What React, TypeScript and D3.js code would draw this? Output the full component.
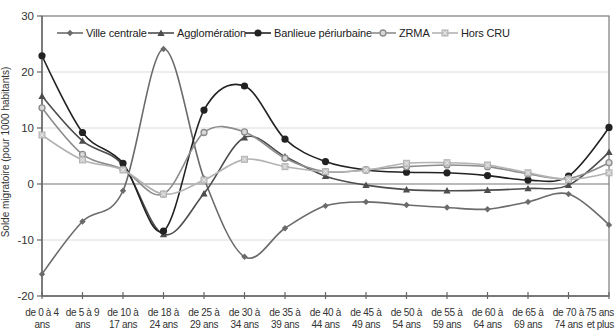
import React from "react";
import * as d3 from "d3";

const labelLine1 = ["de 0 à 4", "de 5 à 9", "de 10 à", "de 18 à", "de 25 à", "de 30 à", "de 35 à", "de 40 à", "de 45 à", "de 50 à", "de 55 à", "de 60 à", "de 65 à", "de 70 à", "75 ans"];
const labelLine2 = ["ans", "ans", "17 ans", "24 ans", "29 ans", "34 ans", "39 ans", "44 ans", "49 ans", "54 ans", "59 ans", "64 ans", "69 ans", "74 ans", "et plus"];
const categories = labelLine1.map((l, i) => l + " " + labelLine2[i]);

const seriesNames = ["Ville centrale", "Agglomération", "Banlieue périurbaine", "ZRMA", "Hors CRU"];
const villeCentrale = [-16.1, -6.7, -1.2, 24.1, 1.0, -13.0, -7.9, -3.9, -3.2, -3.75, -4.2, -4.5, -3.2, -1.8, -7.3];
const agglomeration = [15.7, 7.7, 3.4, -9.0, -1.7, 8.3, 4.9, 1.4, -0.2, -1.0, -1.2, -1.1, -0.8, -0.2, 5.7];
const banlieue = [22.9, 9.2, 3.7, -8.4, 13.2, 17.5, 8.0, 4.0, 2.5, 2.1, 2.0, 1.5, 0.7, 1.4, 10.1];
const zrma = [13.6, 5.3, 2.6, -1.8, 9.2, 9.3, 4.6, 2.2, 2.5, 3.1, 3.4, 3.1, 1.8, 1.0, 3.8];
const horsCru = [8.75, 4.3, 2.5, -1.8, 0.7, 4.4, 3.1, 2.2, 2.5, 3.7, 3.8, 3.4, 2.0, 0.8, 2.0];
const yTicks = [-20, -10, 0, 10, 20, 30];
const yLabel = "Solde migratoire (pour 1000 habitants)";

const seriesValues = [villeCentrale, agglomeration, banlieue, zrma, horsCru];

const styles = [
  { color: "#6b6b6b", marker: "diamond", fill: "#6b6b6b" },
  { color: "#4d4d4d", marker: "triangle", fill: "#4d4d4d" },
  { color: "#222222", marker: "circle", fill: "#222222" },
  { color: "#8c8c8c", marker: "ocircle", fill: "#d8d8d8" },
  { color: "#b3b3b3", marker: "square", fill: "#c8c8c8" },
];
const legendTextX = [86, 177, 274, 399, 461];

const W = 615, H = 332;
const font = "'Liberation Sans', Arial, Helvetica, sans-serif";

function Marker({ type, x, y, color, fill }: any) {
  if (type === "diamond") {
    const s = 3.2;
    return <path d={`M${x},${y - s}L${x + s},${y}L${x},${y + s}L${x - s},${y}Z`} fill={fill} />;
  }
  if (type === "triangle") {
    const s = 3.6;
    return <path d={`M${x},${y - s}L${x + s},${y + s * 0.8}L${x - s},${y + s * 0.8}Z`} fill={fill} />;
  }
  if (type === "circle") {
    return <circle cx={x} cy={y} r={3.6} fill={fill} />;
  }
  if (type === "ocircle") {
    return <circle cx={x} cy={y} r={3} fill={fill} stroke={color} strokeWidth={1.3} />;
  }
  return (
    <g>
      <rect x={x - 3} y={y - 3} width={6} height={6} fill={fill} stroke={color} strokeWidth={1} />
      <path d={`M${x - 2},${y - 2}L${x + 2},${y + 2}M${x + 2},${y - 2}L${x - 2},${y + 2}`} stroke="#eee" strokeWidth={0.8} />
    </g>
  );
}

export default function App() {
  const x = d3.scalePoint<string>().domain(categories).range([42, 609]);
  const y = d3.scaleLinear().domain([-20, 30]).range([296, 16]);
  const line = d3
    .line<number>()
    .x((_, i) => x(categories[i]) as number)
    .y((d) => y(d))
    .curve(d3.curveCardinal.tension(0));
  const last = categories.length - 1;

  return (
    <svg width={W} height={H} style={{ position: "absolute", left: 0, top: 0 }} fontFamily={font}>
      <rect width={W} height={H} fill="#fff" />
      {yTicks.filter((t) => t !== 0 && t !== -20 && t !== 30).map((t) => (
        <line key={t} x1={42} x2={609} y1={y(t)} y2={y(t)} stroke="#dcdcdc" strokeWidth={1} />
      ))}
      <rect x={42} y={16} width={567} height={280} fill="none" stroke="#7a7a7a" strokeWidth={1.2} />
      <line x1={42} x2={609} y1={y(0)} y2={y(0)} stroke="#777" strokeWidth={1.2} />
      <line x1={42} x2={42} y1={16} y2={296} stroke="#666" strokeWidth={1.4} />
      {yTicks.map((t) => (
        <g key={t}>
          <line x1={37} x2={42} y1={y(t)} y2={y(t)} stroke="#666" strokeWidth={1.2} />
          <text x={34} y={y(t) + 4} textAnchor="end" fontSize={11.5} fill="#333">
            {t}
          </text>
        </g>
      ))}
      <line x1={42} x2={609} y1={296} y2={296} stroke="#666" strokeWidth={1.4} />
      {categories.map((c, i) => {
        const cx = x(c) as number;
        const anchor = i === last ? "end" : "middle";
        const tx = i === last ? 614 : cx;
        return (
          <g key={c}>
            <line x1={cx} x2={cx} y1={292} y2={299} stroke="#666" strokeWidth={1.2} />
            <text x={tx} y={316} textAnchor={anchor} fontSize={10} letterSpacing={-0.3} fill="#333">
              {labelLine1[i]}
            </text>
            <text x={tx} y={328} textAnchor={anchor} fontSize={10} letterSpacing={-0.3} fill="#333">
              {labelLine2[i]}
            </text>
          </g>
        );
      })}
      <text transform={`translate(9,152) rotate(-90)`} textAnchor="middle" fontSize={10} fill="#333">
        {yLabel}
      </text>
      {seriesValues.map((vals, si) => (
        <g key={si}>
          <path d={line(vals) as string} fill="none" stroke={styles[si].color} strokeWidth={1.6} />
          {vals.map((v, i) => (
            <Marker key={i} type={styles[si].marker} x={x(categories[i])} y={y(v)} color={styles[si].color} fill={styles[si].fill} />
          ))}
        </g>
      ))}
      {seriesNames.map((n, si) => (
        <g key={n}>
          <line x1={legendTextX[si] - 29} x2={legendTextX[si] - 3} y1={33} y2={33} stroke={styles[si].color} strokeWidth={1.6} />
          <Marker type={styles[si].marker} x={legendTextX[si] - 16} y={33} color={styles[si].color} fill={styles[si].fill} />
          <text x={legendTextX[si]} y={37} fontSize={11} letterSpacing={-0.15} fill="#222">
            {n}
          </text>
        </g>
      ))}
    </svg>
  );
}
